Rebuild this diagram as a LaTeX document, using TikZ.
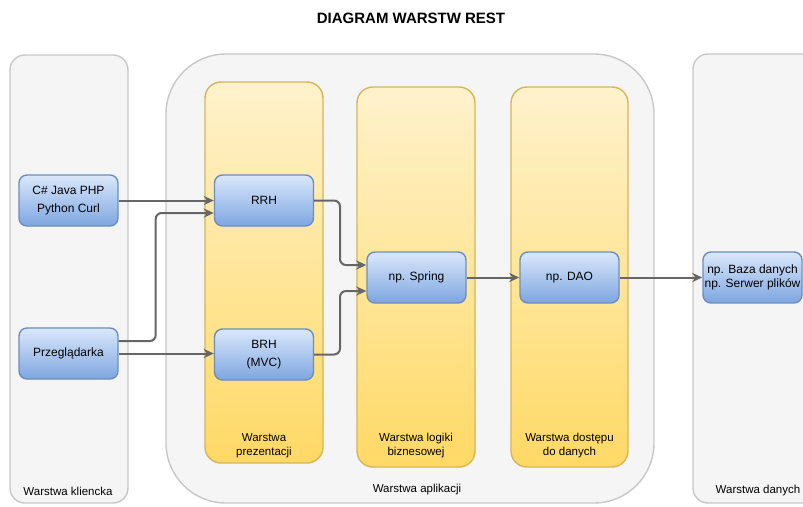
\documentclass[tikz,border=0pt]{standalone}
\usepackage{fontspec}
\setmainfont{Liberation Sans}
\usetikzlibrary{arrows.meta}

\definecolor{panelfill}{HTML}{F5F5F5}
\definecolor{paneledge}{HTML}{C8C8C8}
\definecolor{laneTop}{HTML}{FFF2CC}
\definecolor{laneBot}{HTML}{FFD966}
\definecolor{laneEdge}{HTML}{D6B656}
\definecolor{boxTop}{HTML}{DAE8FC}
\definecolor{boxBot}{HTML}{7EA6E0}
\definecolor{boxEdge}{HTML}{6C8EBF}
\definecolor{wire}{HTML}{666666}

\tikzset{
  panel/.style={draw=paneledge, fill=panelfill, line width=1.4pt},
  lane/.style={draw=laneEdge, top color=laneTop, bottom color=laneBot, line width=1.4pt, rounded corners=16pt},
  compbox/.style={draw=boxEdge, top color=boxTop, bottom color=boxBot, line width=1.4pt,
    rounded corners=8pt, minimum width=99pt, minimum height=51pt, inner sep=0pt,
    align=center, font=\fontsize{12}{17.5}\selectfont},
  lanelabel/.style={align=center, font=\fontsize{11.5}{14}\selectfont, inner sep=0pt},
  flow/.style={draw=wire, line width=2pt, rounded corners=6pt,
    -{Stealth[length=10pt,width=9pt,inset=3pt]}}
}

\begin{document}
\begin{tikzpicture}[x=1pt,y=-1pt]
\useasboundingbox (0,0) rectangle (803,506);
\fill[white] (0,0) rectangle (803,506);

\node[font=\bfseries\fontsize{15}{18}\selectfont] (title) at (411,18) {DIAGRAM WARSTW REST};

\begin{scope}
\clip (0,0) rectangle (803,506);
% outer tiers
\draw[panel, rounded corners=15pt] (10,55) rectangle (128,503);
\draw[panel, rounded corners=60pt] (166,54) rectangle (654,503);
\draw[panel, rounded corners=15pt] (693,54) rectangle (830,503);
\end{scope}

% application sub-layers
\draw[lane] (205,82) rectangle (323,463);
\draw[lane] (357,87) rectangle (475,467);
\draw[lane] (511,87) rectangle (628,467);

% tier and layer captions
\node[lanelabel] (lclient) at (68,491) {Warstwa kliencka};
\node[lanelabel] (lapp) at (417,490) {Warstwa aplikacji};
\node[lanelabel] (ldata) at (758,491) {Warstwa danych};
\node[lanelabel] (lpres) at (264,446) {Warstwa\\prezentacji};
\node[lanelabel] (llogic) at (416,446) {Warstwa logiki\\biznesowej};
\node[lanelabel] (ldao) at (569.5,446) {Warstwa dostępu\\do danych};

% components
\node[compbox] (client) at (68.5,200.5) {C\# Java PHP\\Python Curl};
\node[compbox] (browser) at (68.5,353.5) {Przeglądarka};
\node[compbox] (rrh) at (264,200.5) {RRH};
\node[compbox] (brh) at (264,354.5) {BRH\\(MVC)};
\node[compbox] (spring) at (416.5,277.5) {np. Spring};
\node[compbox] (dao) at (569.5,277.5) {np. DAO};
\node[compbox, font=\fontsize{12}{14}\selectfont] (db) at (752.5,277.5) {np. Baza danych\\np. Serwer plików};

% request flow
\draw[flow] (client.east) -- (rrh.west);
\draw[flow] ([yshift=12.5pt]browser.east) -- ++(37,0) |- ([yshift=-12.5pt]rrh.west);
\draw[flow] (browser.east) -- (browser.east -| brh.west);
\draw[flow] (rrh.east) -- (340,200.5) |- ([yshift=12.5pt]spring.west);
\draw[flow] (brh.east) -- (340,354.5) |- ([yshift=-13.5pt]spring.west);
\draw[flow] (spring.east) -- (dao.west);
\draw[flow] (dao.east) -- (db.west);
\end{tikzpicture}
\end{document}
